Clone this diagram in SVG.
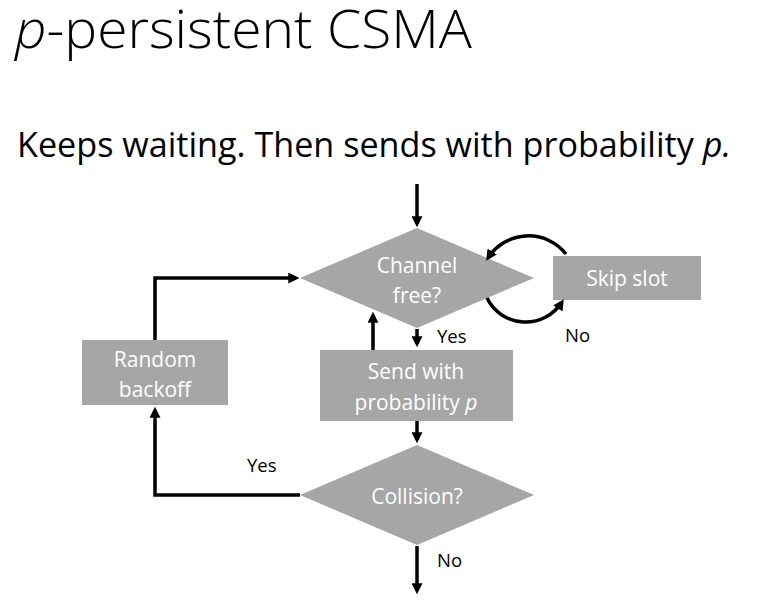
<svg xmlns="http://www.w3.org/2000/svg" width="773" height="611" viewBox="0 0 773 611">
<style>
.shape{fill:#a6a6a6}
.nt{font-family:"Open Sans","Liberation Sans",sans-serif;font-size:21px;fill:#ffffff;text-anchor:middle}
.lbl{font-family:"Open Sans","Liberation Sans",sans-serif;font-size:18.5px;fill:#000000}
.con{fill:none;stroke:#000000;stroke-width:3.5;marker-end:url(#ah)}
.title{font-family:"Open Sans","Liberation Sans",sans-serif;font-weight:300;font-size:53px;fill:#000000}
.sub{font-family:"Open Sans","Liberation Sans",sans-serif;font-size:34.5px;fill:#000000}
</style>
<defs>
<marker id="ah" viewBox="0 0 10 10" refX="7" refY="5" markerUnits="userSpaceOnUse" markerWidth="11" markerHeight="11" orient="auto">
<path d="M0,0 L10,5 L0,10 z" fill="#000000"/>
</marker>
</defs>
<rect width="773" height="611" fill="#ffffff"/>
<text class="title" x="15" y="48" textLength="457" lengthAdjust="spacingAndGlyphs"><tspan font-style="italic">p</tspan>-persistent CSMA</text>
<text class="sub" x="17" y="157" textLength="714" lengthAdjust="spacingAndGlyphs">Keeps waiting. Then sends with probability <tspan font-style="italic">p.</tspan></text>

<g id="channel-free">
<polygon class="shape" points="417,228 534,278 417,328 300,278"/>
<text class="nt" x="417" y="273">Channel</text>
<text class="nt" x="417" y="303">free?</text>
</g>
<g id="skip-slot">
<rect class="shape" x="553" y="256" width="148" height="44"/>
<text class="nt" x="627" y="286">Skip slot</text>
</g>
<g id="send">
<rect class="shape" x="320" y="350" width="193" height="71"/>
<text class="nt" x="416" y="379">Send with</text>
<text class="nt" x="416" y="410">probability <tspan font-style="italic">p</tspan></text>
</g>
<g id="collision">
<polygon class="shape" points="417,445 534,495 417,545 300,495"/>
<text class="nt" x="417" y="504">Collision?</text>
</g>
<g id="random-backoff">
<rect class="shape" x="82" y="340" width="146" height="65"/>
<text class="nt" x="155" y="367">Random</text>
<text class="nt" x="155" y="397">backoff</text>
</g>

<g id="connectors">
<path class="con" d="M417,184 V224"/>
<path class="con" d="M417,329 V344"/>
<path class="con" d="M373,350 V315"/>
<path class="con" d="M417,421 V440"/>
<path class="con" d="M417,546 V591"/>
<path class="con" d="M300,495 H155 V410"/>
<path class="con" d="M155,340 V278 H296"/>
<path class="con" d="M566,254 A48,48 0 0 0 488,258"/>
<path class="con" d="M487,298 A43,43 0 0 0 562,302"/>
</g>

<g id="labels">
<text class="lbl" x="437" y="343">Yes</text>
<text class="lbl" x="565" y="342">No</text>
<text class="lbl" x="247" y="472">Yes</text>
<text class="lbl" x="437" y="567">No</text>
</g>
</svg>
